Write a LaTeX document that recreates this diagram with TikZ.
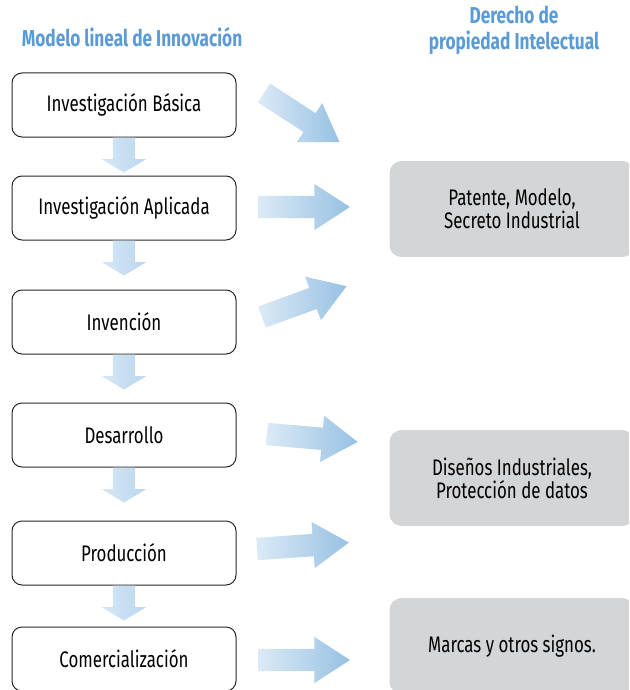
\documentclass[tikz,border=0pt]{standalone}
\usepackage{fontspec}
\setmainfont[FakeStretch=0.75]{Fira Sans}
\usetikzlibrary{shapes.arrows,positioning}
\definecolor{titleblue}{HTML}{5B9BD5}
\definecolor{boxgray}{HTML}{D4D5D7}
\definecolor{arrowlight}{HTML}{DCEAF6}
\definecolor{arrowdark}{HTML}{97C1E3}
\definecolor{downlight}{HTML}{D5E7F5}
\definecolor{downdark}{HTML}{BBD7EE}

\begin{document}
\begin{tikzpicture}[x=1pt, y=-1pt,
    stagebox/.style={rectangle, rounded corners=10pt, draw=black!85, line width=1pt, minimum width=224pt, minimum height=64pt, font=\fontsize{22.5}{24}\selectfont},
    rightsbox/.style={rectangle, rounded corners=12pt, fill=boxgray, minimum width=245pt, minimum height=96pt, align=center, font=\fontsize{22.5}{23}\selectfont},
    headtext/.style={text=titleblue, align=center, font=\bfseries\fontsize{23}{26}\selectfont},
    fatarrow/.style={single arrow, draw=none, outer sep=0pt, inner xsep=0pt, inner ysep=11pt, single arrow head extend=12pt, single arrow tip angle=66, single arrow head indent=0pt, left color=arrowlight, right color=arrowdark, anchor=tail},
    downarrow/.style={single arrow, draw=none, outer sep=0pt, inner xsep=0pt, inner ysep=11pt, single arrow head extend=11pt, single arrow tip angle=118, single arrow head indent=0pt, minimum height=35pt, rotate=-90, left color=downlight, right color=downdark}]
    \clip (0,0) rectangle (629,690);
    % Titles
    \node[headtext] (lhead) at (132,37) {Modelo lineal de Innovación};
    \node[headtext] (rhead) at (514,30) {Derecho de\\propiedad Intelectual};
    % Place nodes
    \node[stagebox] (basica)  at (124,105) {Investigación Básica};
    \node[stagebox] (aplic)   at (124,208) {Investigación Aplicada};
    \node[stagebox] (inven)   at (124,322) {Invención};
    \node[stagebox] (desar)   at (124,435) {Desarrollo};
    \node[stagebox] (produc)  at (124,553) {Producción};
    \node[stagebox] (comerc)  at (124,659) {Comercialización};
    \node[rightsbox] (patente) at (512,209) {Patente, Modelo,\\Secreto Industrial};
    \node[rightsbox] (disenos) at (512,478) {Diseños Industriales,\\Protección de datos};
    \node[rightsbox] (marcas)  at (512,646) {Marcas y otros signos.};
    % Down arrows
    \node[downarrow, below=0pt of basica, anchor=tail] (d1) {};
    \node[downarrow, below=0pt of aplic, anchor=tail]  (d2) {};
    \node[downarrow, below=0pt of inven, anchor=tail]  (d3) {};
    \node[downarrow, below=0pt of desar, anchor=tail]  (d4) {};
    \node[downarrow, below=0pt of produc, anchor=tail] (d5) {};
    % Arrows to the rights
    \node[fatarrow, minimum height=90pt, rotate=-33] (r1) at (264,93)  {};
    \node[fatarrow, minimum height=92pt]             (r2) at (258,207) {};
    \node[fatarrow, minimum height=90pt, rotate=20]  (r3) at (262,317) {};
    \node[fatarrow, minimum height=91pt, rotate=-5]  (r4) at (267,434) {};
    \node[fatarrow, minimum height=92pt, rotate=4]   (r5) at (257,549) {};
    \node[fatarrow, minimum height=92pt]             (r6) at (258,660) {};
\end{tikzpicture}
\end{document}
